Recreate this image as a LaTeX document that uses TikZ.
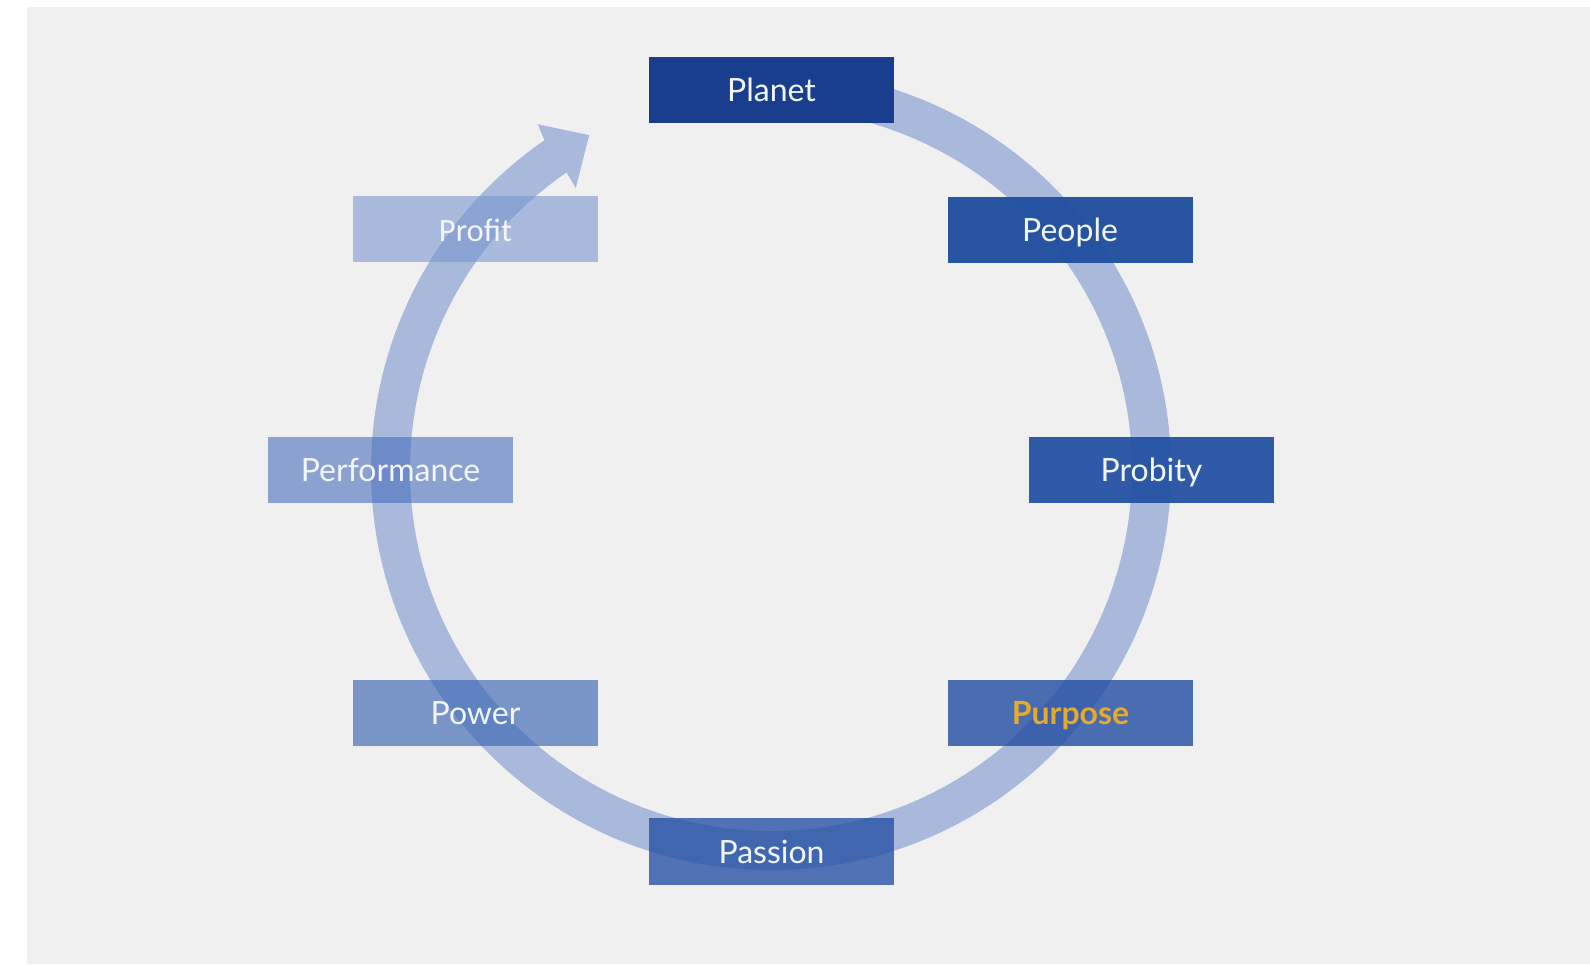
\documentclass[tikz,border=0pt]{standalone}
\usepackage{fontspec}
\setmainfont{Lato}
\newfontfamily\carlito{Carlito}
\definecolor{bgc}{HTML}{F0F0F0}
\definecolor{ringc}{HTML}{A8B9DB}
\definecolor{boxtext}{HTML}{F2F5FB}
\definecolor{gold}{HTML}{E5A92B}
\definecolor{cPlanet}{HTML}{1A3E8E}
\definecolor{cPeople}{HTML}{2150A0}
\definecolor{cProbity}{HTML}{2552A5}
\definecolor{cPurpose}{HTML}{214DA3}
\definecolor{cPassion}{HTML}{234FA4}
\definecolor{cPower}{HTML}{3A65B4}
\definecolor{cPerformance}{HTML}{436BBC}
\definecolor{cProfit}{HTML}{7A96CF}
\begin{document}
\begin{tikzpicture}[x=0.5pt,y=0.5pt,
  box/.style={minimum width=122.5pt, minimum height=33pt, inner sep=0pt,
    text height=11.5pt, text depth=0pt, text opacity=1,
    font=\fontsize{16}{18}\selectfont, text=boxtext}]
\useasboundingbox (0,0) rectangle (1590,964);
\fill[white] (0,0) rectangle (1590,964);
\fill[bgc] (27,0) rectangle (1590,957);
\begin{scope}[shift={(771,494)}]
\fill[ringc] (90:400) arc[start angle=90, end angle=-235.5, radius=400]
  -- (-236:417) -- (-241.5:381) -- (-235.3:343) -- (-235.5:361)
  arc[start angle=-235.5, end angle=90, radius=361] -- cycle;
\end{scope}
\node[box, fill=cPlanet] (planet) at (771.5,874) {Planet};
\node[box, fill=cPeople, fill opacity=0.97] (people) at (1070,734) {People};
\node[box, fill=cProbity, fill opacity=0.95] (probity) at (1151.5,494) {Probity};
\node[box, fill=cPurpose, fill opacity=0.8, text=gold, font=\fontsize{16}{18}\selectfont\bfseries] (purpose) at (1070.5,251) {Purpose};
\node[box, fill=cPassion, fill opacity=0.78] (passion) at (771.5,112.5) {Passion};
\node[box, fill=cPower, fill opacity=0.65] (power) at (475.5,251) {Power};
\node[box, fill=cPerformance, fill opacity=0.58] (performance) at (390.5,494) {Performance};
\node[box, fill=cProfit, fill opacity=0.6, font=\carlito\fontsize{16.3}{18}\selectfont, text height=12.5pt] (profit) at (475.5,734.5) {Profit};
\end{tikzpicture}
\end{document}
